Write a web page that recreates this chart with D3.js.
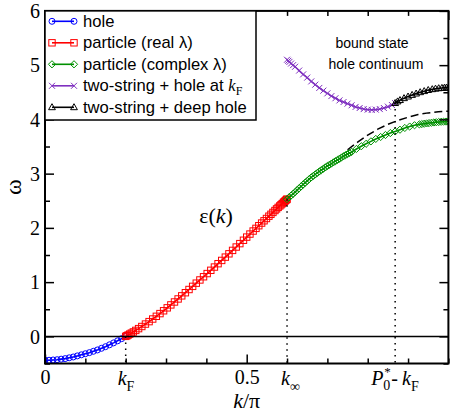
<!DOCTYPE html>
<html><head><meta charset="utf-8">
<script src="https://cdn.jsdelivr.net/npm/d3@7"></script>
<style>body{margin:0;background:#fff}svg{display:block}</style>
</head><body><svg id="c" width="450" height="418"></svg>
<script>
// ---- data ----
const holeK = [0,0.01,0.02,0.03,0.04,0.05,0.06,0.07,0.08,0.09,0.10,0.11,0.12,0.13,0.14,0.15,0.16,0.17,0.18,0.19,0.20];
const holeW = [-0.44,-0.44,-0.435,-0.43,-0.42,-0.41,-0.395,-0.38,-0.36,-0.34,-0.32,-0.30,-0.275,-0.25,-0.22,-0.19,-0.155,-0.12,-0.082,-0.042,0.0];

const realK = [0.200,0.203,0.206,0.210,0.214,0.219,0.225,0.232,0.240,0.249,0.258,0.267,0.276,0.285,0.294,0.303,0.312,0.321,0.330,0.339,0.348,0.357,0.366,0.375,0.384,0.393,0.402,0.411,0.420,0.429,0.438,0.447,0.456,0.465,0.474,0.483,0.492,0.500,0.508,0.516,0.523,0.530,0.537,0.543,0.549,0.555,0.560,0.565,0.570,0.574,0.578,0.582,0.585,0.588,0.591,0.593,0.595,0.597,0.599,0.600];
const realW = [0.000,0.012,0.025,0.042,0.060,0.082,0.110,0.143,0.182,0.227,0.272,0.320,0.370,0.420,0.472,0.526,0.580,0.634,0.690,0.747,0.805,0.864,0.922,0.981,1.040,1.099,1.158,1.218,1.278,1.340,1.400,1.461,1.522,1.585,1.647,1.710,1.772,1.830,1.886,1.942,1.991,2.040,2.089,2.131,2.173,2.215,2.250,2.285,2.320,2.350,2.378,2.405,2.426,2.447,2.468,2.482,2.496,2.510,2.523,2.530];

const cplxK = [0.600,0.605,0.610,0.615,0.620,0.625,0.630,0.635,0.640,0.645,0.650,0.655,0.660,0.665,0.670,0.675,0.680,0.685,0.690,0.695,0.700,0.705,0.710,0.715,0.720,0.725,0.730,0.735,0.740,0.745,0.750,0.755,0.760,0.772,0.784,0.796,0.808,0.820,0.832,0.844,0.856,0.868,0.880,0.892,0.904,0.916,0.928,0.934,0.940,0.946,0.952,0.958,0.964,0.970,0.976,0.982,0.988,0.994,1.000];
const cplxW = [2.530,2.563,2.595,2.628,2.660,2.695,2.730,2.765,2.800,2.833,2.865,2.898,2.930,2.958,2.985,3.013,3.040,3.065,3.090,3.115,3.140,3.163,3.185,3.208,3.230,3.253,3.275,3.298,3.320,3.340,3.360,3.380,3.400,3.455,3.505,3.550,3.595,3.640,3.676,3.712,3.748,3.778,3.810,3.842,3.868,3.892,3.908,3.914,3.920,3.926,3.932,3.938,3.943,3.948,3.952,3.956,3.958,3.960,3.960];

const dashK = [0.750,0.775,0.800,0.825,0.850,0.875,0.900,0.925,0.950,0.975,1.000];
const dashW = [3.44,3.58,3.71,3.82,3.91,3.98,4.04,4.09,4.12,4.14,4.15];

const twoHoleK = [0.600,0.603,0.606,0.610,0.615,0.620,0.630,0.640,0.650,0.660,0.670,0.680,0.690,0.700,0.710,0.720,0.730,0.740,0.750,0.760,0.770,0.780,0.790,0.800,0.810,0.820,0.830,0.840,0.850,0.860,0.868];
const twoHoleW = [5.10,5.08,5.06,5.03,5.00,4.97,4.90,4.83,4.77,4.70,4.64,4.58,4.53,4.48,4.43,4.39,4.35,4.32,4.29,4.26,4.23,4.21,4.19,4.18,4.175,4.18,4.19,4.21,4.235,4.265,4.30];

const deepK = [0.868,0.874,0.880,0.890,0.900,0.910,0.920,0.930,0.940,0.950,0.960,0.968,0.976,0.984,0.990,0.995,1.000];
const deepW = [4.30,4.33,4.355,4.39,4.42,4.45,4.475,4.50,4.52,4.54,4.555,4.565,4.573,4.579,4.582,4.584,4.585];

const kF = 0.2, kInf = 0.6, kP = 0.868;
const yMajor = [0,1,2,3,4,5,6];
const yMinor = [-0.5,0.5,1.5,2.5,3.5,4.5,5.5];
const xMajor = [0,0.5,1];
const xMinor = [0.1,0.2,0.3,0.4,0.6,0.7,0.8,0.9];

const legendItems = [
  {label:"hole", color:"#0000ff", sym:"circle"},
  {label:"particle (real λ)", color:"#ff0000", sym:"square"},
  {label:"particle (complex λ)", color:"#009000", sym:"diamond"},
  {label:"two-string + hole at ", sub:true, color:"#7f30c0", sym:"x"},
  {label:"two-string + deep hole", color:"#000000", sym:"triangle"}
];

// ---- drawing ----
const svg = d3.select("#c");
const L = 45, R = 448.4, T = 10.9, B = 363.5;
const x = d3.scaleLinear().domain([0,1]).range([L,R]);
const y = d3.scaleLinear().domain([-0.5,6]).range([B,T]);

svg.append("defs").append("clipPath").attr("id","clip")
  .append("rect").attr("x",L).attr("y",T).attr("width",R-L).attr("height",B-T);
const plot = svg.append("g").attr("clip-path","url(#clip)");

const line = d3.line().x(d=>x(d[0])).y(d=>y(d[1]));
const zip = (a,b)=>a.map((v,i)=>[v,b[i]]);

function marker(g, sym, color, px, py){
  const s = 3.2;
  if(sym==="circle") g.append("circle").attr("cx",px).attr("cy",py).attr("r",3).attr("fill","none").attr("stroke",color).attr("stroke-width",1);
  else if(sym==="square") g.append("rect").attr("x",px-s).attr("y",py-s).attr("width",2*s).attr("height",2*s).attr("fill","none").attr("stroke",color).attr("stroke-width",1);
  else if(sym==="diamond") g.append("path").attr("d",`M${px},${py-3.6}L${px+3.6},${py}L${px},${py+3.6}L${px-3.6},${py}Z`).attr("fill","none").attr("stroke",color).attr("stroke-width",1);
  else if(sym==="x") g.append("path").attr("d",`M${px-3},${py-3}L${px+3},${py+3}M${px-3},${py+3}L${px+3},${py-3}`).attr("stroke",color).attr("stroke-width",1);
  else if(sym==="triangle") g.append("path").attr("d",`M${px},${py-3.6}L${px+3.4},${py+2.4}L${px-3.4},${py+2.4}Z`).attr("fill","none").attr("stroke",color).attr("stroke-width",1);
}

function series(K,W,color,sym){
  const data = zip(K,W);
  plot.append("path").datum(data).attr("d",line).attr("fill","none").attr("stroke",color).attr("stroke-width",1.6);
  const g = plot.append("g");
  data.forEach(d=>marker(g,sym,color,x(d[0]),y(d[1])));
}

series(holeK,holeW,"#0000ff","circle");
series(realK,realW,"#ff0000","square");
series(cplxK,cplxW,"#009000","diamond");
plot.append("path").datum(zip(dashK,dashW)).attr("d",line).attr("fill","none")
  .attr("stroke","#000").attr("stroke-width",1.5).attr("stroke-dasharray","8,4");
series(twoHoleK,twoHoleW,"#7f30c0","x");
series(deepK,deepW,"#000000","triangle");

// dotted verticals
[[kF,0],[kInf,realW[realW.length-1]],[kP,deepW[0]]].forEach(([k,w])=>{
  svg.append("line").attr("x1",x(k)).attr("x2",x(k)).attr("y1",y(w)).attr("y2",B)
    .attr("stroke","#000").attr("stroke-width",1.5).attr("stroke-dasharray","1.5,4.5");
});
// zero line
svg.append("line").attr("x1",L).attr("x2",R).attr("y1",y(0)).attr("y2",y(0)).attr("stroke","#000").attr("stroke-width",1.5);

// axes ticks
const tickStyle = g=>{g.select(".domain").remove(); g.selectAll("line").attr("stroke","#000").attr("stroke-width",1.5);};
const serif = "'Liberation Serif','Times New Roman',serif";
const sans = "'Liberation Sans',Arial,sans-serif";

svg.append("g").attr("transform",`translate(${L},0)`)
  .call(d3.axisLeft(y).tickValues(yMajor).tickSize(-9).tickPadding(5).tickFormat(d3.format("d")))
  .call(tickStyle).call(g=>g.selectAll("text").attr("font-family",serif).attr("font-size",20).attr("fill","#000").attr("dy","0.34em"));
svg.append("g").attr("transform",`translate(${L},0)`)
  .call(d3.axisLeft(y).tickValues(yMinor).tickSize(-5).tickFormat(""))
  .call(tickStyle);
svg.append("g").attr("transform",`translate(${R},0)`)
  .call(d3.axisRight(y).tickValues(yMajor).tickSize(-9).tickFormat(""))
  .call(tickStyle);
svg.append("g").attr("transform",`translate(${R},0)`)
  .call(d3.axisRight(y).tickValues(yMinor).tickSize(-5).tickFormat(""))
  .call(tickStyle);

svg.append("g").attr("transform",`translate(0,${B})`)
  .call(d3.axisBottom(x).tickValues([0,0.5]).tickSize(-9).tickPadding(6).tickFormat(d=>d===0?"0":"0.5"))
  .call(tickStyle).call(g=>g.selectAll("text").attr("font-family",serif).attr("font-size",20).attr("fill","#000").attr("dy","0.71em"));
svg.append("g").attr("transform",`translate(0,${B})`)
  .call(d3.axisBottom(x).tickValues(xMinor.concat([1])).tickSize(-5).tickFormat(""))
  .call(tickStyle);
svg.append("g").attr("transform",`translate(0,${T})`)
  .call(d3.axisTop(x).tickValues(xMajor).tickSize(-9).tickFormat(""))
  .call(tickStyle);
svg.append("g").attr("transform",`translate(0,${T})`)
  .call(d3.axisTop(x).tickValues(xMinor).tickSize(-5).tickFormat(""))
  .call(tickStyle);

// frame
svg.append("rect").attr("x",L).attr("y",T).attr("width",R-L).attr("height",B-T)
  .attr("fill","none").attr("stroke","#000").attr("stroke-width",2);

// special x tick labels
const lblY = 385;
function kLabel(xpos, subText){
  const t = svg.append("text").attr("x",xpos).attr("y",lblY).attr("font-family",serif).attr("font-size",20);
  t.append("tspan").attr("font-style","italic").text("k");
  t.append("tspan").attr("font-size",14).attr("dy",6).text(subText);
  return t;
}
kLabel(x(kF)-8, "F");
kLabel(x(kInf)-6, "∞");
{
  const px = x(kP)-24;
  const t = svg.append("text").attr("x",px).attr("y",lblY).attr("font-family",serif).attr("font-size",20);
  t.append("tspan").attr("font-style","italic").text("P");
  t.append("tspan").attr("font-size",14).attr("dy",5).text("0");
  t.append("tspan").attr("dy",-5).attr("dx",1).text("-");
  t.append("tspan").attr("font-style","italic").attr("dx",4).text("k");
  t.append("tspan").attr("font-size",14).attr("dy",6).text("F");
  svg.append("text").attr("x",px+13).attr("y",lblY-9).attr("font-family",serif).attr("font-size",13).text("*");
}

// axis titles
{
  const t = svg.append("text").attr("x",x(0.5)).attr("y",408).attr("text-anchor","middle").attr("font-family",serif).attr("font-size",22);
  t.append("tspan").attr("font-style","italic").text("k");
  t.append("tspan").text("/π");
}
svg.append("text").attr("transform",`translate(21,${(T+B)/2}) rotate(-90)`).attr("text-anchor","middle")
  .attr("font-family",serif).attr("font-size",24).text("ω");

// annotations
{
  const t = svg.append("text").attr("x",216).attr("y",223).attr("text-anchor","middle").attr("font-family",serif).attr("font-size",22);
  t.append("tspan").text("ε(");
  t.append("tspan").attr("font-style","italic").text("k");
  t.append("tspan").text(")");
}
svg.append("text").attr("x",372).attr("y",48).attr("text-anchor","middle").attr("font-family",sans).attr("font-size",14).text("bound state");
svg.append("text").attr("x",376).attr("y",69).attr("text-anchor","middle").attr("font-family",sans).attr("font-size",14).text("hole continuum");

// legend
const lg = svg.append("g");
lg.append("rect").attr("x",L).attr("y",T).attr("width",256-L).attr("height",120-T)
  .attr("fill","#fff").attr("stroke","#000").attr("stroke-width",1.5);
legendItems.forEach((it,i)=>{
  const cy = 21.3 + i*21.5;
  lg.append("line").attr("x1",52).attr("x2",74).attr("y1",cy).attr("y2",cy).attr("stroke",it.color).attr("stroke-width",1.6);
  marker(lg,it.sym,it.color,52,cy);
  marker(lg,it.sym,it.color,74,cy);
  const t = lg.append("text").attr("x",83).attr("y",cy+5.5).attr("font-family",sans).attr("font-size",16.6).attr("fill","#000");
  t.append("tspan").text(it.label);
  if(it.sub){
    t.append("tspan").attr("font-family",serif).attr("font-style","italic").text("k");
    t.append("tspan").attr("font-family",serif).attr("font-size",12).attr("dy",4).text("F");
  }
});
</script></body></html>
